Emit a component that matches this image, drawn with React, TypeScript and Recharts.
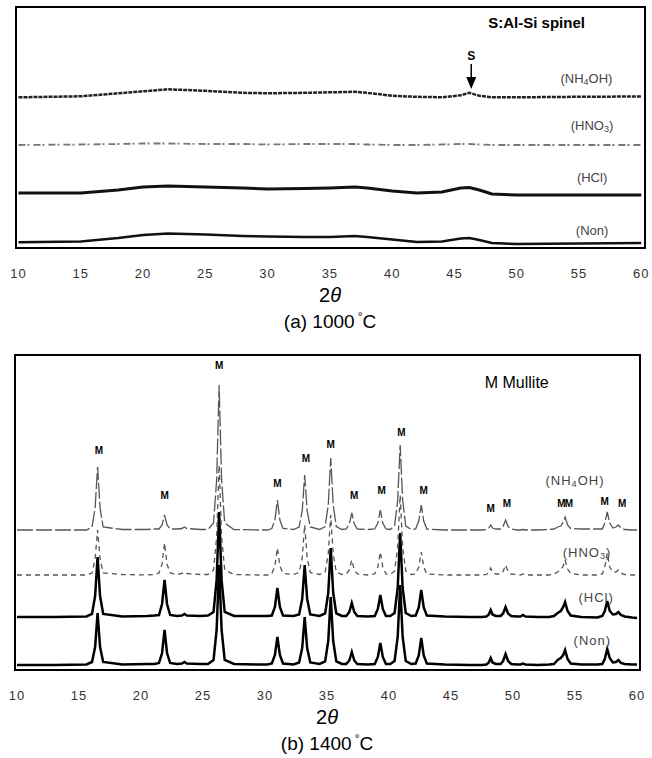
import React from "react";
import { ComposedChart, Line, XAxis, YAxis, Scatter, ReferenceArea } from "recharts";

const TICKS = [10, 15, 20, 25, 30, 35, 40, 45, 50, 55, 60];
const FONT = "'Liberation Sans', Arial, sans-serif";

// ---- (a) 1000 °C : broad amorphous humps ----
const topTheta = [10, 15, 18, 20, 22, 25, 28, 30, 33, 35, 37, 38, 40, 42, 44, 45.5, 46.2, 47, 48, 50, 55, 60];
const topNon = [0, 0.8, 4.3, 7.3, 8.8, 7.8, 6.3, 5.8, 5.3, 5.3, 6.3, 5.3, 2.8, 0.3, 0.8, 3.8, 4.3, 2.3, -0.7, -1.7, -1.2, -0.7];
const topHCl = [0, 0, 3, 6, 7, 6, 5, 4, 4.5, 5, 6, 5, 2, 0, 1, 5, 5.5, 3, -1, -2, -2, -2];
const topHNO3 = [0, 0.5, 1, 1.5, 1.5, 1, 1, 0.5, 1, 1, 1, 0.5, 0, 0, 0.5, 1, 1, 0.5, 0, 0, 0, 0];
const topNH4OH = [0, 1, 4, 6, 8, 6.5, 4.5, 4, 4.5, 5, 5.5, 4.5, 1.5, 0.5, 0, 2, 4.5, 1.5, 0, 0, 0.5, 0.8];
const topOffsets = [5.7, 55, 103, 150.7]; // Non, HCl, HNO3, NH4OH

// ---- (b) 1400 °C : mullite peaks ----
const botTheta = [
  10, 13, 15.6,
  16.05, 16.3, 16.5, 16.7, 16.95,
  18.5, 20.5, 21.1,
  21.45, 21.7, 21.9, 22.1, 22.35,
  22.9,
  23.3, 23.5, 23.7,
  24.8, 25.4,
  25.85, 26.1, 26.3, 26.5, 26.75,
  27.5, 29.5, 30.2,
  30.55, 30.8, 31.0, 31.2, 31.45,
  32.3,
  32.75, 33.0, 33.2, 33.4, 33.65,
  34.4,
  34.85, 35.1, 35.3, 35.5, 35.75,
  36.2,
  36.55, 36.8, 37.0, 37.2, 37.45,
  38.3,
  38.85, 39.1, 39.3, 39.5, 39.75,
  40.1,
  40.45, 40.7, 40.9, 41.1, 41.35,
  41.8,
  42.15, 42.4, 42.6, 42.8, 43.05,
  44.5, 46.5, 47.5,
  47.85, 48.05, 48.2, 48.35, 48.6,
  48.8,
  49.0, 49.2, 49.4, 49.6, 49.85,
  50.3,
  50.6, 50.8, 51.0,
  52.0, 52.9,
  53.3, 53.6, 53.85, 54.05, 54.2, 54.4, 54.65,
  55.5, 56.8,
  57.2, 57.4, 57.6, 57.8, 58.05, 58.3, 58.5, 58.7, 59.0,
  59.6, 60,
];
const botNon = [
  0, 0, 0.5,
  3, 18, 52, 18, 3,
  0.5, 1, 1,
  2, 12, 35, 12, 2,
  1,
  1.5, 3, 1.5,
  1, 1,
  5, 35, 100, 35, 5,
  1, 0.5, 0.5,
  1.5, 10, 28, 10, 1.5,
  0.5,
  2.5, 17, 48, 17, 2.5,
  1,
  3.5, 24, 68, 24, 3.5,
  1,
  1, 4.5, 13, 4.5, 1,
  0.5,
  1, 8, 22, 8, 1,
  1,
  4, 28, 80, 28, 4,
  1,
  1.5, 9.5, 27, 9.5, 1.5,
  0.5, 0, 0,
  0.5, 2.5, 7, 2.5, 1,
  1,
  1, 4, 11, 4, 1,
  0.5,
  0.5, 1.5, 0.5,
  0, 0.5,
  1, 5, 7, 10, 15, 6, 1.5,
  0.5, 0.5,
  1, 6, 16, 7, 2.5, 3, 5, 2, 1,
  0.5, 0.5,
];
const botHCl = [
  0, 0, 0.5,
  3, 21, 60, 21, 3,
  0.5, 1, 1.5,
  2, 13, 37, 13, 2,
  1,
  1.5, 3, 1.5,
  1, 1.5,
  5, 37, 105, 37, 5,
  1, 1, 1,
  1.5, 10, 29, 10, 1.5,
  1,
  2.5, 18, 52, 18, 2.5,
  1,
  3.5, 24, 69, 24, 3.5,
  1,
  1, 5, 14, 5, 1,
  0.5,
  1, 8, 22, 8, 1,
  1,
  4, 29, 84, 29, 4,
  1,
  1.5, 9.5, 27, 9.5, 1.5,
  0.5, 0, 0,
  0.5, 2.5, 7, 2.5, 1,
  1,
  1, 3.5, 10, 3.5, 1,
  0.5,
  0.5, 2, 0.5,
  0, 0,
  1, 4, 6, 10, 15, 6, 1.5,
  0, -0.5,
  1, 6, 16, 6, 2.5, 3, 5, 2, 0.5,
  -0.5, -1,
];
const botHNO3 = [
  0, 0, 0,
  2, 16, 45, 16, 2,
  0.5, 0, 0.5,
  2, 11, 32, 11, 2,
  0.5,
  1.5, 3, 1.5,
  0.5, 0.5,
  5, 38, 110, 38, 5,
  0.5, 0, 0,
  1.5, 9, 27, 9, 1.5,
  0.5,
  2.5, 17, 50, 17, 2.5,
  0.5,
  3, 21, 60, 21, 3,
  0.5,
  1, 5, 15, 5, 1,
  0,
  1, 8, 23, 8, 1,
  0.5,
  4, 28, 80, 28, 4,
  0.5,
  1, 8, 23, 8, 1,
  0, 0, 0,
  0.5, 2.5, 7, 2.5, 1,
  1,
  1, 3.5, 10, 3.5, 1,
  0.5,
  0, 1, 0,
  0, 0,
  1, 3, 5, 9, 15, 6, 1.5,
  0, 0,
  1, 8, 22, 8, 3, 3, 5, 2, 0.5,
  0, 0,
];
const botNH4OH = [
  0, 0, 0,
  3, 22, 63, 22, 3,
  0.5, 0.5, 1,
  1, 5, 15, 5, 1,
  1,
  1.5, 3, 1.5,
  0.5, 0.5,
  7, 50, 145, 50, 7,
  0.5, 0, 0,
  1.5, 10, 30, 10, 1.5,
  0.5,
  3, 19, 55, 19, 3,
  0.5,
  3.5, 25, 72, 25, 3.5,
  0.5,
  1, 6, 17, 6, 1,
  0.5,
  1, 7, 20, 7, 1,
  0.5,
  4, 30, 85, 30, 4,
  0.5,
  1, 9, 25, 9, 1,
  0, 0, 0,
  0.5, 2, 5, 2, 1,
  1,
  1, 3.5, 10, 3.5, 1,
  0,
  0, 0.5, 0,
  0, 0.5,
  1, 3, 4, 8, 13, 5, 1.5,
  1, 1,
  1, 7, 18, 7, 2, 3, 5, 2, 0.5,
  0, 0,
];
const botOffsets = [5, 53, 95, 140]; // Non, HCl, HNO3, NH4OH

// ---- annotations ----
const seriesNames = ["(Non)", "(HCl)", "(HNO3)", "(NH4OH)"];
const topNameTheta = [56.05, 56.05, 56.05, 55.6];
const topNameY = [18, 71, 123, 170];
const botNameTheta = [56.4, 56.7, 55.97, 55.0];
const botNameY = [30, 73, 118, 190];

const mTheta = [16.6, 21.9, 26.3, 31.0, 33.3, 35.3, 37.2, 39.4, 41.0, 42.8, 48.2, 49.5, 53.9, 54.5, 57.4, 58.8];
const mY = [220, 175, 305, 187, 212, 226, 175, 180, 238, 180, 162, 167, 167, 167, 169, 167];

function chem(s: string, sub: number) {
  const parts = s.split(/(\d)/).filter((p) => p !== "");
  return parts.map((p, i) =>
    /\d/.test(p) ? (
      <tspan key={i} fontSize="70%" dy={sub}>{p}</tspan>
    ) : (
      <tspan key={i} dy={i > 0 && /\d/.test(parts[i - 1]) ? -sub : 0}>{p}</tspan>
    )
  );
}

const TextMark = (props: any) => {
  const { cx, cy, payload } = props;
  if (cx == null || cy == null) return null;
  return (
    <text
      x={cx}
      y={cy}
      textAnchor="middle"
      dominantBaseline="central"
      fontSize={payload.size}
      fontWeight={payload.bold ? 700 : 400}
      fill={payload.color}
      fontFamily={FONT}
      letterSpacing={payload.spacing || 0}
    >
      {chem(payload.label, 4)}
    </text>
  );
};

const ArrowMark = (props: any) => {
  const { cx, cy } = props;
  if (cx == null || cy == null) return null;
  return (
    <g>
      <text x={cx} y={cy - 8} textAnchor="middle" fontSize={12} fontWeight={700} fontFamily={FONT}>S</text>
      <line x1={cx} y1={cy - 4} x2={cx} y2={cy + 14} stroke="#000" strokeWidth={1.5} />
      <path d={`M${cx - 5},${cy + 9} L${cx + 5},${cy + 9} L${cx},${cy + 21} Z`} fill="#000" />
    </g>
  );
};

const tickStyle = { fill: "#333", fontSize: 13, fontFamily: FONT, letterSpacing: 1 };

function Panel(props: {
  top: number;
  height: number;
  margin: any;
  domain: [number, number];
  yMax: number;
  rows: any[];
  styles: { stroke: string; width: number; dash?: string }[];
  marks: any[];
  extra?: any[];
}) {
  const { top, height, margin, domain, yMax, rows, styles, marks, extra } = props;
  const keys = ["non", "hcl", "hno3", "nh4oh"];
  return (
    <div style={{ position: "absolute", left: 0, top, width: 652, height }}>
      <ComposedChart width={652} height={height} data={rows} margin={margin}>
        <XAxis
          dataKey="t"
          type="number"
          domain={domain}
          ticks={TICKS}
          allowDataOverflow
          axisLine={false}
          tickLine={false}
          tick={tickStyle}
          tickMargin={15}
          height={30}
        />
        <YAxis yAxisId="l" type="number" domain={[0, yMax]} allowDataOverflow hide />
        <ReferenceArea
          yAxisId="l"
          x1={domain[0]}
          x2={domain[1]}
          y1={0}
          y2={yMax}
          fill="none"
          stroke="#000"
          strokeWidth={2}
          ifOverflow="visible"
        />
        {keys.map((k, i) => (
          <Line
            key={k}
            yAxisId="l"
            dataKey={k}
            type="linear"
            stroke={styles[i].stroke}
            strokeWidth={styles[i].width}
            strokeDasharray={styles[i].dash}
            dot={false}
            isAnimationActive={false}
          />
        ))}
        <Scatter yAxisId="l" data={marks} dataKey="v" shape={TextMark} isAnimationActive={false} />
        {extra && <Scatter yAxisId="l" data={extra} dataKey="v" shape={ArrowMark} isAnimationActive={false} />}
      </ComposedChart>
    </div>
  );
}

const Caption = (props: { left: number; top: number; label: string; temp: string }) => (
  <>
    <div style={{ position: "absolute", left: props.left, width: 200, top: props.top, textAlign: "center", fontSize: 20 }}>
      2<i>θ</i>
    </div>
    <div style={{ position: "absolute", left: props.left, width: 200, top: props.top + 27, textAlign: "center", fontSize: 19 }}>
      {props.label} {props.temp}
      <span style={{ fontSize: 12, position: "relative", top: -7, marginLeft: 3 }}>°</span>C
    </div>
  </>
);

export default function App() {
  const topRows = topTheta.map((t, i) => ({
    t,
    non: topNon[i] + topOffsets[0],
    hcl: topHCl[i] + topOffsets[1],
    hno3: topHNO3[i] + topOffsets[2],
    nh4oh: topNH4OH[i] + topOffsets[3],
  }));
  const botRows = botTheta.map((t, i) => ({
    t,
    non: botNon[i] + botOffsets[0],
    hcl: botHCl[i] + botOffsets[1],
    hno3: botHNO3[i] + botOffsets[2],
    nh4oh: botNH4OH[i] + botOffsets[3],
  }));

  const topMarks = [
    ...seriesNames.map((s, i) => ({ t: topNameTheta[i], v: topNameY[i], label: s, size: 13, color: "#444" })),
    { t: 51.6, v: 226, label: "S:Al-Si spinel", size: 15, bold: true, color: "#000" },
  ];
  const botMarks = [
    ...seriesNames.map((s, i) => ({ t: botNameTheta[i], v: botNameY[i], label: s, size: 13, color: "#444", spacing: 1 })),
    { t: 50.3, v: 288, label: "M Mullite", size: 16, color: "#000" },
    ...mTheta.map((t, i) => ({ t, v: mY[i], label: "M", size: 10, bold: true, color: "#000" })),
  ];

  return (
    <div style={{ position: "absolute", left: 0, top: 0, width: 652, height: 758, background: "#fff", fontFamily: FONT }}>
      <Panel
        top={0}
        height={300}
        margin={{ top: 7, right: 7, left: 16, bottom: 22 }}
        domain={[9.8, 60.3]}
        yMax={241}
        rows={topRows}
        styles={[
          { stroke: "#111", width: 2.5 },
          { stroke: "#111", width: 3 },
          { stroke: "#777", width: 1.8, dash: "7 2 2 4" },
          { stroke: "#222", width: 2.5, dash: "4 1" },
        ]}
        marks={topMarks}
        extra={[{ t: 46.35, v: 180 }]}
      />
      <Caption left={230} top={284} label="(a)" temp="1000" />

      <Panel
        top={330}
        height={400}
        margin={{ top: 25, right: 12, left: 15, bottom: 30 }}
        domain={[9.84, 60.24]}
        yMax={315}
        rows={botRows}
        styles={[
          { stroke: "#000", width: 2.5 },
          { stroke: "#000", width: 2.5 },
          { stroke: "#555", width: 1.3, dash: "5 4" },
          { stroke: "#555", width: 1.3, dash: "16 3" },
        ]}
        marks={botMarks}
      />
      <Caption left={227} top={706} label="(b)" temp="1400" />
    </div>
  );
}
